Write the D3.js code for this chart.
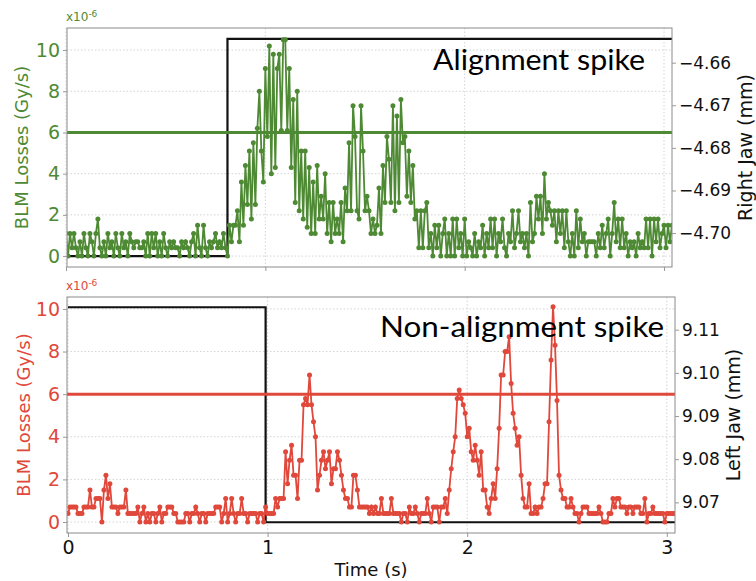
<!DOCTYPE html>
<html>
<head>
<meta charset="utf-8">
<script src="https://cdn.jsdelivr.net/npm/d3@7"></script>
<style>
  html, body { margin: 0; padding: 0; background: #fff; }
  svg { display: block; }
</style>
</head>
<body>
<script>
// ---------------- DATA ----------------
const sampleStep = 0.01; // seconds between BLM samples
const timeTicks = [0, 1, 2, 3];
const lossTicks = [0, 2, 4, 6, 8, 10];
const lossThreshold = 6;

// Top panel: alignment spike (BLM losses, x1e-6 Gy/s)
const alignLosses = [
  1.1,0,1.1,0.4,1.1,0.4,0,0.7,0,1.1,
  0.4,0,1.1,0.7,0,1.1,1.8,0.4,0,0.7,
  0,1.1,0.4,0.7,0,1.1,0.4,0,1.1,0.4,
  0.7,0,1.1,0.7,0.4,0.7,0.7,0.4,0.4,0.7,
  0,1.1,0,1.1,0.4,1.1,0,0.7,0,1.1,
  0.4,0,0.7,0.4,0.7,0.4,0.4,0,0.7,0.4,
  0.7,0.4,0,0.7,1.1,0,1.5,0.4,0,1.5,
  0.4,0,0.7,0.4,0.7,1.1,0.4,0.7,0.4,1.1,
  0.4,0,1.5,0.7,1.5,1.5,2.2,0.7,3.6,1.5,
  4.4,2.5,5.1,1.8,5.5,2.5,6.2,8.0,5.1,3.6,
  9.1,5.8,10.2,4.0,9.8,4.3,9.1,9.8,6.1,10.5,
  10.5,6.1,9.1,4.3,7.6,2.6,8.0,2.2,5.1,1.8,
  5.1,1.4,4.3,1.1,3.6,1.1,4.4,1.8,2.9,1.8,
  4.0,1.1,2.6,0.7,2.6,1.1,1.8,1.1,2.6,0.7,
  3.3,2.2,5.5,2.2,7.3,5.8,2.2,1.8,7.3,5.1,
  2.2,2.9,2.2,1.1,1.8,1.1,1.5,3.3,1.1,4.4,
  2.6,5.8,4.7,2.6,7.3,2.2,6.8,2.6,7.6,5.5,
  5.8,2.9,5.1,2.6,4.4,1.8,2.2,0.4,2.2,0.4,
  2.2,2.6,0.4,1.1,0,1.5,0.4,1.5,0,1.1,
  1.8,0,1.1,0,1.8,0,1.8,0.4,1.1,0,
  1.8,0,0.7,0.4,0,1.1,0,0.7,0.4,1.5,
  0,1.1,0.4,1.8,0.4,1.8,0,1.1,0.7,1.8,
  0.4,0,1.1,0.7,2.2,0.4,1.1,2.2,0.7,1.1,
  0.4,1.1,0,2.6,0.7,1.1,2.9,1.8,2.9,1.1,
  4.0,1.8,2.6,2.2,1.5,2.2,0.7,2.2,1.1,2.2,
  0.4,2.2,0.7,0,1.1,0,2.2,0.4,1.8,0.7,
  1.1,0,0.7,0.7,0.7,0.7,0,1.1,0.4,1.5,
  0.4,1.1,1.8,0,1.1,2.6,0.7,1.8,0.4,1.8,
  0.4,1.1,0,0.7,0.4,0.7,0,1.1,0.4,0.7,
  0.4,1.8,0.4,1.8,0,1.8,0.7,1.8,0.4,1.1,
  1.5,0.4,1.5,0.7,1.5
];

// Bottom panel: non-alignment spike (BLM losses, x1e-6 Gy/s)
const nonAlignLosses = [
  0.4,0.7,0.7,0.7,0.7,0.4,0.4,0.4,0.7,0.7,
  0.7,1.5,0.7,0.7,1.1,1.1,1.1,0,1.5,2.2,
  1.1,1.8,0.7,0.7,0.7,0.4,0.7,0.7,0.7,1.5,
  0.4,0.4,0.4,0.4,0.4,0.7,0,0.4,0.7,0,
  0.4,0,0.4,0.4,0,0.4,0.7,0,0.4,0.4,
  0.7,0.7,0.7,0.4,0.4,0,0,0,0,0.4,
  0.4,0,0.4,0.4,0.7,0.4,0,0.4,0.4,0,
  0.4,0.4,0.4,0.4,0.7,0.7,0.7,0,0.4,1.1,
  0,0.4,1.1,0.4,0,0.4,0.4,1.1,0.4,0.4,
  0,0.4,0.4,0.4,0.4,0,0.4,0.4,0,0.7,
  0.4,0.4,0.4,0.4,1.1,0.7,1.1,1.1,1.1,3.3,
  1.8,2.9,3.6,2.2,2.2,1.1,2.9,2.9,5.5,5.8,
  5.5,6.9,5.5,4.7,4.0,1.5,2.2,2.9,3.3,2.5,
  2.9,3.3,1.8,2.5,2.5,3.3,2.9,2.2,1.5,1.1,
  1.1,0.7,0.7,2.2,2.2,1.5,0.7,0.7,0.7,0.7,
  0.7,0.4,0.7,0.4,0.7,0.4,0.4,1.1,0.4,0.4,
  0.4,0.4,1.1,0.4,0.4,0.4,0.4,0,0.4,0.4,
  0,0.7,0.4,0.4,0.7,0.4,0,0.4,0.4,0.4,
  1.1,0.4,0,0.7,0.7,0.7,0,0.7,0.7,1.1,
  0.4,1.5,2.5,3.3,4.0,5.8,6.2,5.8,5.5,5.1,
  4.0,4.4,3.3,2.9,3.6,2.9,2.2,3.3,1.5,1.5,
  0.7,0.4,1.1,1.8,1.1,2.5,4.4,6.9,6.9,8.0,
  8.0,8.7,6.5,5.1,4.4,3.6,4.0,2.2,1.1,0.7,
  0.7,1.8,0.4,0.4,0.7,0.4,0.7,0.7,1.1,1.8,
  1.8,4.7,7.6,10.1,8.3,5.7,2.2,1.5,1.1,1.1,
  0.7,0.7,1.1,0.7,0.4,0.4,0,0.4,0.7,0.7,
  0.7,0.4,0.4,0.4,0.4,0.4,0.7,0.4,0,0,
  0,0.4,0.4,1.1,0.7,1.1,1.1,0.7,0.7,0.7,
  0.4,0.7,0.7,0.4,0.7,0.7,0.7,0.4,0.4,1.1,
  0,0.4,0.4,0.7,0.4,0.4,0.4,0.4,0.4,0,
  0.4,0.4,0.4,0.4,0.4
];

// Jaw positions (mm), step changes
const rightJawTimes  = [0, 0.81, 3.05];
const rightJawValues = [-4.7054, -4.6544, -4.6544];
const rightJawTicks  = [-4.66, -4.67, -4.68, -4.69, -4.70];

const leftJawTimes  = [0, 0.99, 3.05];
const leftJawValues = [9.1152, 9.0654, 9.0654];
const leftJawTicks  = [9.07, 9.08, 9.09, 9.10, 9.11];

// ---------------- DRAWING ----------------
const W = 756, H = 581;
const svg = d3.select("body").append("svg").attr("width", W).attr("height", H);

const GREEN = "#4e8a34";
const RED = "#e0483b";
const TICKFONT = "DejaVu Sans, sans-serif";

function drawPanel(p) {
  const g = svg.append("g");
  const x = d3.scaleLinear().domain(p.xDomain).range([p.left, p.right]);
  const yL = d3.scaleLinear().domain(p.yDomain).range([p.bottom, p.top]);
  const yR = d3.scaleLinear().domain(p.yRDomain).range([p.bottom, p.top]);

  // grid
  const grid = g.append("g").attr("stroke", "#d4d4d4").attr("stroke-width", 1)
    .attr("stroke-dasharray", "1.5,2");
  lossTicks.forEach(v => grid.append("line")
    .attr("x1", p.left).attr("x2", p.right).attr("y1", yL(v)).attr("y2", yL(v)));
  timeTicks.forEach(v => grid.append("line")
    .attr("x1", x(v)).attr("x2", x(v)).attr("y1", p.top).attr("y2", p.bottom));

  // clip
  const clipId = "clip" + p.id;
  svg.append("clipPath").attr("id", clipId).append("rect")
    .attr("x", p.left).attr("y", p.top).attr("width", p.right - p.left).attr("height", p.bottom - p.top);
  const inner = g.append("g").attr("clip-path", `url(#${clipId})`);

  // jaw step line (right axis)
  const jaw = p.jawTimes.map((t, i) => [t, p.jawValues[i]]);
  inner.append("path").datum(jaw)
    .attr("fill", "none").attr("stroke", "#111").attr("stroke-width", 2.2)
    .attr("d", d3.line().x(d => x(d[0])).y(d => yR(d[1])).curve(d3.curveStepAfter));

  // threshold
  inner.append("line").attr("x1", p.left).attr("x2", p.right)
    .attr("y1", yL(lossThreshold)).attr("y2", yL(lossThreshold))
    .attr("stroke", p.color).attr("stroke-width", 3);

  // losses
  const pts = p.losses.map((v, i) => [i * sampleStep, v]);
  inner.append("path").datum(pts)
    .attr("fill", "none").attr("stroke", p.color).attr("stroke-width", 1.8)
    .attr("d", d3.line().x(d => x(d[0])).y(d => yL(d[1])));
  inner.append("g").attr("fill", p.color).selectAll("circle").data(pts).join("circle")
    .attr("cx", d => x(d[0])).attr("cy", d => yL(d[1])).attr("r", 2.5);

  // frame
  g.append("rect").attr("x", p.left).attr("y", p.top)
    .attr("width", p.right - p.left).attr("height", p.bottom - p.top)
    .attr("fill", "none").attr("stroke", "#8a8a8a").attr("stroke-width", 1);

  // left axis
  const la = g.append("g").attr("transform", `translate(${p.left},0)`)
    .call(d3.axisLeft(yL).tickValues(lossTicks).tickSize(4).tickPadding(3).tickFormat(d3.format("d")));
  la.select(".domain").remove();
  la.selectAll("line").attr("stroke", "#999");
  la.selectAll("text").attr("fill", p.color).style("font-family", TICKFONT).style("font-size", "19px");

  // right axis
  const ra = g.append("g").attr("transform", `translate(${p.right},0)`)
    .call(d3.axisRight(yR).tickValues(p.jawTicks).tickSize(4).tickPadding(3).tickFormat(d3.format(".2f")));
  ra.select(".domain").remove();
  ra.selectAll("line").attr("stroke", "#999");
  ra.selectAll("text").attr("fill", "#111").style("font-family", TICKFONT).style("font-size", "17px");

  // bottom ticks
  const ba = g.append("g").attr("transform", `translate(0,${p.bottom})`)
    .call(d3.axisBottom(x).tickValues(timeTicks).tickSize(4).tickPadding(4)
      .tickFormat(p.showXLabels ? d3.format("d") : ""));
  ba.select(".domain").remove();
  ba.selectAll("line").attr("stroke", "#999");
  ba.selectAll("text").attr("fill", "#111").style("font-family", TICKFONT).style("font-size", "19px");

  // multiplier label
  const m = g.append("text").attr("x", p.left - 1).attr("y", p.top - 7)
    .attr("fill", p.color).style("font-family", TICKFONT).style("font-size", "12px");
  m.append("tspan").text("x10");
  m.append("tspan").attr("dy", -4).style("font-size", "9px").text("-6");

  // axis titles
  g.append("text").attr("transform", `translate(${p.leftTitleX},${(p.top + p.bottom) / 2}) rotate(-90)`)
    .attr("text-anchor", "middle").attr("fill", p.color)
    .style("font-family", TICKFONT).style("font-size", "18px").text("BLM Losses (Gy/s)");
  g.append("text").attr("transform", `translate(${p.rightTitleX},${(p.top + p.bottom) / 2}) rotate(-90)`)
    .attr("text-anchor", "middle").attr("fill", "#111")
    .style("font-family", TICKFONT).style("font-size", "19px").text(p.rightTitle);

  // annotation
  g.append("text").attr("x", p.noteX).attr("y", p.noteY)
    .attr("fill", "#000").attr("textLength", p.noteLen).attr("lengthAdjust", "spacingAndGlyphs")
    .style("font-family", "Lato, 'Open Sans', sans-serif").style("font-size", "29px").text(p.note);
}

drawPanel({
  id: "top", left: 67, right: 672, top: 28, bottom: 267,
  xDomain: [0.005, 3.04], yDomain: [-0.53, 11.07], yRDomain: [-4.70797, -4.65186],
  losses: alignLosses, color: GREEN,
  jawTimes: rightJawTimes, jawValues: rightJawValues, jawTicks: rightJawTicks,
  showXLabels: false, leftTitleX: 28, rightTitleX: 752, rightTitle: "Right Jaw (mm)",
  note: "Alignment spike", noteX: 433, noteY: 70, noteLen: 212
});

drawPanel({
  id: "bot", left: 67, right: 675, top: 297, bottom: 533,
  xDomain: [-0.005, 3.041], yDomain: [-0.516, 10.56], yRDomain: [9.06291, 9.11757],
  losses: nonAlignLosses, color: RED,
  jawTimes: leftJawTimes, jawValues: leftJawValues, jawTicks: leftJawTicks,
  showXLabels: true, leftTitleX: 30, rightTitleX: 740, rightTitle: "Left Jaw (mm)",
  note: "Non-alignment spike", noteX: 380, noteY: 337, noteLen: 284
});

svg.append("text").attr("x", 371).attr("y", 576).attr("text-anchor", "middle")
  .attr("fill", "#111").style("font-family", TICKFONT).style("font-size", "18px").text("Time (s)");
</script>
</body>
</html>
